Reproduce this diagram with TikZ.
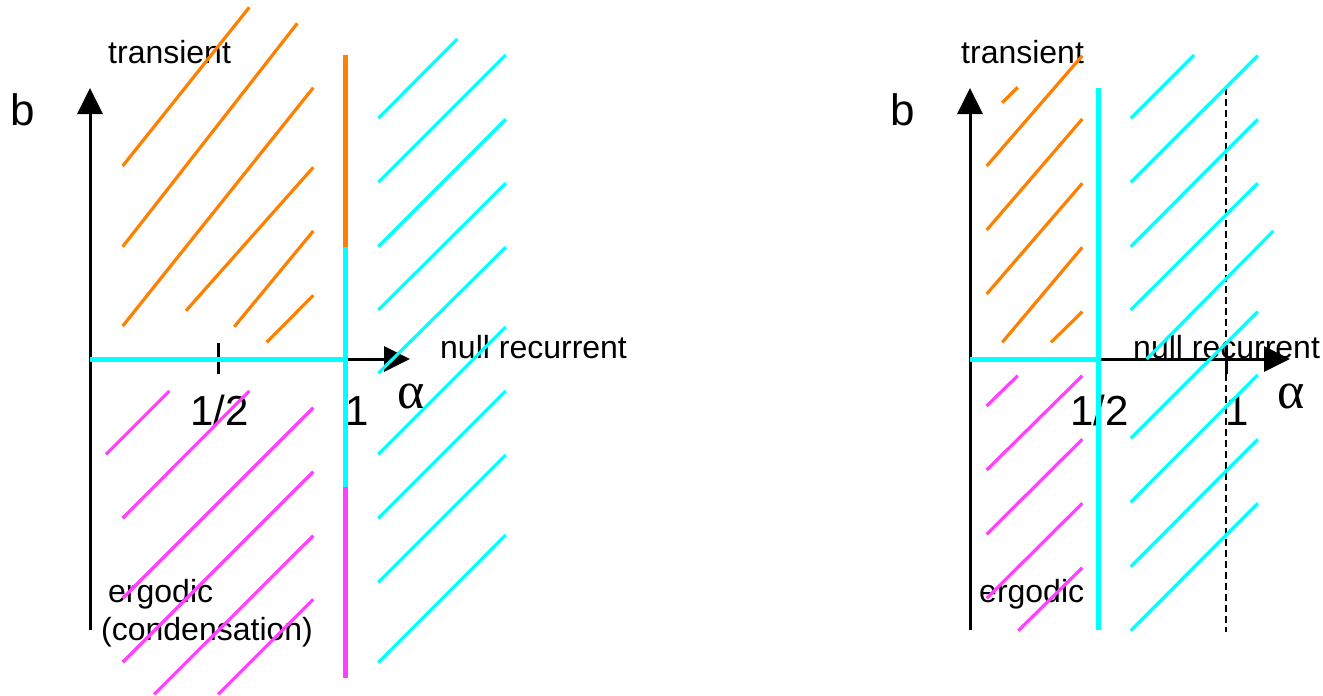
\documentclass[tikz,border=0pt]{standalone}
\usepackage{fontspec}
\setmainfont{Liberation Sans}
\newfontfamily\greekfont{Liberation Serif}
\usetikzlibrary{arrows.meta}
\definecolor{hOrange}{RGB}{255,128,0}
\definecolor{hCyan}{RGB}{0,255,255}
\definecolor{hMag}{RGB}{255,64,255}
\tikzset{
  axisline/.style={line width=3pt,black},
  axisarrow/.style={axisline,-{Triangle[length=26pt,width=25pt]}},
  bound/.style={line width=5pt},
  hatch/.style={line width=3.2pt},
  lbl/.style={inner sep=0pt,anchor=base west,font=\fontsize{32}{38}\selectfont},
  biglbl/.style={inner sep=0pt,anchor=base west,font=\fontsize{44}{50}\selectfont},
  numlbl/.style={inner sep=0pt,anchor=base,font=\fontsize{42}{48}\selectfont},
  numlblw/.style={inner sep=0pt,anchor=base west,font=\fontsize{42}{48}\selectfont},
  alphalbl/.style={inner sep=0pt,anchor=base west,font=\fontsize{52}{58}\greekfont},
  dashline/.style={line width=1.5pt,black,dash pattern=on 7pt off 4pt}
}
\begin{document}
\begin{tikzpicture}[x=1pt,y=-1pt]
\useasboundingbox (0,0) rectangle (1323,696);
% ---------------- left panel ----------------
\node[biglbl] (bL) at (10,125) {b};
\node[lbl] (trL) at (108,63) {transient};
\node[lbl] (nrL) at (440,358) {null recurrent};
\node[lbl] (erL) at (108,602) {ergodic};
\node[lbl] (coL) at (101,640) {(condensation)};
\node[numlbl] (halfL) at (219.5,425) {1/2};
\node[numlblw] (oneL) at (345,425) {1};
\node[alphalbl] (alL) at (397,408) {α};

\coordinate (oL) at (90,359);
\coordinate (ytopL) at (90,88);
\coordinate (ybotL) at (90,630);
\coordinate (xendL) at (410,359);
\coordinate (xoneL) at (345.7,359);
\draw[axisline] (oL) -- (ybotL);
\draw[axisarrow] (oL) -- (ytopL);
\draw[axisarrow] (oL) -- (xendL);
\draw[axisline] (218,343) -- (218,374);
\draw[bound,hCyan] (oL) -- (xoneL);
\draw[bound,hOrange] (345.7,55) -- (345.7,247);
\draw[bound,hCyan] (345.7,247) -- (345.7,487);
\draw[bound,hMag] (345.7,487) -- (345.7,678);

% orange hatch
\draw[hatch,hOrange] (122.7,166) -- (249.3,7.3);
\draw[hatch,hOrange] (122.7,246.7) -- (297.3,23.3);
\draw[hatch,hOrange] (122.7,326) -- (313.3,87.7);
\draw[hatch,hOrange] (186,310.7) -- (313.3,167.3);
\draw[hatch,hOrange] (234.3,326.7) -- (313.3,231);
\draw[hatch,hOrange] (266.7,342.3) -- (313.3,295.3);
% magenta hatch
\draw[hatch,hMag] (106,454.3) -- (169.3,391);
\draw[hatch,hMag] (122.7,518.3) -- (249.3,391);
\draw[hatch,hMag] (122.7,598.3) -- (313.3,407.7);
\draw[hatch,hMag] (122.7,662.3) -- (313.3,471.7);
\draw[hatch,hMag] (154.3,694.3) -- (313.3,535.7);
\draw[hatch,hMag] (218.3,694.3) -- (313.3,599.3);
% cyan hatch
\draw[hatch,hCyan] (378.3,118.3) -- (457.3,39);
\draw[hatch,hCyan] (378.3,182.3) -- (505.7,55);
\draw[hatch,hCyan] (378.3,246.7) -- (505.7,119.3);
\draw[hatch,hCyan] (378.3,310) -- (505.7,183.3);
\draw[hatch,hCyan] (378.3,373.3) -- (505.7,247.3);
\draw[hatch,hCyan] (378.3,454.3) -- (505.7,327);
\draw[hatch,hCyan] (378.3,518.3) -- (505.7,391);
\draw[hatch,hCyan] (378.3,582.3) -- (505.7,455);
\draw[hatch,hCyan] (378.3,662.7) -- (505.7,535);

% ---------------- right panel ----------------
\node[biglbl] (bR) at (890,125) {b};
\node[lbl] (trR) at (961,63) {transient};
\node[lbl] (nrR) at (1133,358) {null recurrent};
\node[lbl] (erR) at (979,602) {ergodic};
\node[numlbl] (halfR) at (1099.5,425) {1/2};
\node[numlblw] (oneR) at (1225,425) {1};
\node[alphalbl] (alR) at (1277,408) {α};

\coordinate (oR) at (970,359);
\coordinate (ytopR) at (970,88);
\coordinate (ybotR) at (970,630);
\coordinate (xendR) at (1290,359);
\coordinate (xhalfR) at (1098.3,359);
\coordinate (dtop) at (1226,88);
\coordinate (dbot) at (1226,632);
\draw[dashline] (dtop) -- (dbot);
\draw[axisline] (oR) -- (ybotR);
\draw[axisarrow] (oR) -- (ytopR);
\draw[axisarrow] (oR) -- (xendR);
\draw[axisline] (1226,345) -- (1226,374);
\draw[bound,hCyan] (oR) -- (xhalfR);
\draw[bound,hCyan] (1098.3,88) -- (1098.3,630);

% orange hatch
\draw[hatch,hOrange] (1002.3,102.7) -- (1017.7,87.3);
\draw[hatch,hOrange] (986.7,166) -- (1082.3,55.7);
\draw[hatch,hOrange] (986.7,230) -- (1082.3,119);
\draw[hatch,hOrange] (986.7,294) -- (1082.3,183.3);
\draw[hatch,hOrange] (1002.3,342.3) -- (1082.3,247.3);
\draw[hatch,hOrange] (1051,342.3) -- (1082.3,311.7);
% magenta hatch
\draw[hatch,hMag] (986.7,406) -- (1017.7,375.7);
\draw[hatch,hMag] (986.7,470) -- (1082.3,375.7);
\draw[hatch,hMag] (986.7,534.3) -- (1082.3,439.3);
\draw[hatch,hMag] (986.7,598.3) -- (1082.3,503.3);
\draw[hatch,hMag] (1018.3,630.7) -- (1082.3,567.7);
% cyan hatch
\draw[hatch,hCyan] (1130.7,118.3) -- (1194,55);
\draw[hatch,hCyan] (1130.7,182.3) -- (1257.7,55.7);
\draw[hatch,hCyan] (1130.7,246.7) -- (1257.7,119.3);
\draw[hatch,hCyan] (1130.7,310) -- (1257.7,183.3);
\draw[hatch,hCyan] (1146.7,359) -- (1273.3,231);
\draw[hatch,hCyan] (1130.7,438.3) -- (1257.7,311.7);
\draw[hatch,hCyan] (1130.7,502.3) -- (1257.7,375);
\draw[hatch,hCyan] (1130.7,566.7) -- (1257.7,439.3);
\draw[hatch,hCyan] (1130.7,630.7) -- (1257.7,503.3);
\end{tikzpicture}
\end{document}
